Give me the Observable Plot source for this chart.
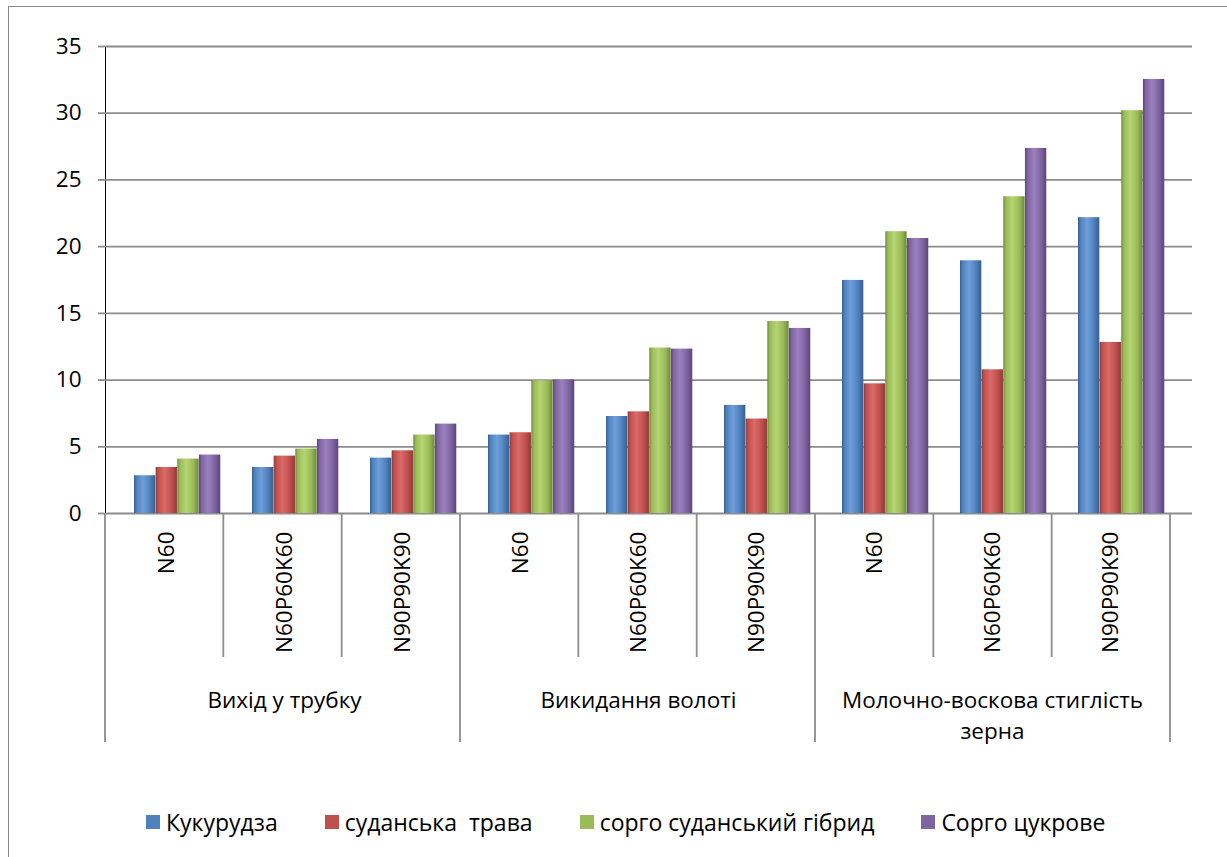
<!DOCTYPE html>
<html>
<head>
<meta charset="utf-8">
<script src="https://cdn.jsdelivr.net/npm/d3@7"></script>
<script src="https://cdn.jsdelivr.net/npm/@observablehq/plot@0.6"></script>
<style>
  html, body { margin: 0; padding: 0; background: #fff; }
  body { width: 1227px; height: 857px; overflow: hidden; position: relative; font-family: "Open Sans", sans-serif; }
  #border { position: absolute; left: 8px; top: 6px; width: 1300px; height: 900px; border: 1.5px solid #8a8a8a; box-sizing: border-box; }
  #chart { position: absolute; left: 0; top: 0; }
  #legend { position: absolute; left: 146px; top: 788px; height: 67px; display: flex; align-items: center; gap: 47px; font-size: 23px; color: #000; }
  .item { display: flex; align-items: center; gap: 6px; white-space: pre; }
  .sw { width: 14px; height: 14px; display: inline-block; }
</style>
</head>
<body>
<div id="border"></div>
<div id="chart"></div>
<div id="legend"></div>
<script>
// ---- data ----
const groups = ["Вихід у трубку", "Викидання волоті", "Молочно-воскова стиглість\nзерна"];
const treatments = ["N60", "N60P60K60", "N90P90K90"];
const seriesNames = ["Кукурудза", "суданська  трава", "сорго суданський гібрид", "Сорго цукрове"];
const seriesColors = ["#4F81BD", "#C0504D", "#9BBB59", "#8064A2"];
const kukurudza    = [2.83, 3.45, 4.15, 5.88, 7.27, 8.10, 17.47, 18.94, 22.17];
const sudanska     = [3.45, 4.30, 4.70, 6.05, 7.62, 7.08, 9.72, 10.77, 12.82];
const sorgoHybrid  = [4.08, 4.83, 5.88, 9.95, 12.40, 14.39, 21.12, 23.74, 30.19];
const sorgoCukrove = [4.38, 5.55, 6.70, 10.02, 12.32, 13.87, 20.61, 27.36, 32.53];
const yTicks = [0, 5, 10, 15, 20, 25, 30, 35];

// ---- derived table ----
const seriesValues = [kukurudza, sudanska, sorgoHybrid, sorgoCukrove];
const keys = [];
groups.forEach((g, gi) => treatments.forEach(t => keys.push(gi + "|" + t)));
const table = [];
seriesValues.forEach((vals, si) => vals.forEach((v, k) => table.push({key: keys[k], series: si, value: v})));

// colours for gradients: [dark, base, light]
const shades = [
  ["#375f8f", "#4F81BD", "#6f9fdb"],
  ["#8f3a38", "#C0504D", "#da6b68"],
  ["#6c873a", "#9BBB59", "#b5d572"],
  ["#5a4577", "#8064A2", "#9b80bf"]
];

const W = 1227, H = 790;
const xLeft = 105, xRight = 1170;
const bw = (xRight - xLeft) / keys.length;
const barW = 21.65, lead = 27;

const barMarks = seriesValues.map((_, si) =>
  Plot.barY(table.filter(d => d.series === si), {
    x: "key", y: "value",
    fill: `url(#grad${si})`,
    insetLeft: lead + barW * si,
    insetRight: bw - lead - barW * (si + 1)
  })
);

const chart = Plot.plot({
  width: W, height: H,
  marginLeft: xLeft, marginRight: W - 1192, marginTop: 46, marginBottom: H - 513,
  style: {fontFamily: "Open Sans", fontSize: "22.5px", color: "#000", background: "transparent", overflow: "visible"},
  x: {domain: keys, range: [xLeft, xRight], padding: 0, tickFormat: k => k.split("|")[1],
      tickRotate: -90, tickSize: 0, tickPadding: 18, label: null},
  y: {domain: [0, 35], ticks: yTicks, tickSize: 7, tickPadding: 17, label: null, line: true},
  marks: [
    Plot.ruleY(yTicks, {stroke: "#8c8c8c", strokeWidth: 1.8}),
    ...barMarks,
    Plot.text(groups, {
      x: (g, i) => keys[i * 3 + 1], text: d => d,
      frameAnchor: "bottom", dy: 172, lineAnchor: "top", lineHeight: 1.4,
      fontSize: 22.5, fill: "#000"
    })
  ]
});
document.getElementById("chart").appendChild(chart);

const svg = d3.select(chart);
// gradients for bar shading
const defs = svg.insert("defs", ":first-child");
shades.forEach((s, i) => {
  const g = defs.append("linearGradient").attr("id", "grad" + i)
    .attr("x1", 0).attr("x2", 1).attr("y1", 0).attr("y2", 0);
  [[0, s[0]], [0.12, s[1]], [0.42, s[2]], [0.75, s[1]], [1, s[0]]].forEach(([o, c]) =>
    g.append("stop").attr("offset", o).attr("stop-color", c));
});
// grey y-axis ticks/line
svg.selectAll('[aria-label="y-axis"] line, [aria-label="y-axis"] path, [aria-label="y-axis tick"], [aria-label="y-axis line"]').attr("stroke", "#8c8c8c").attr("stroke-width", 1.8);

// category separators from the scales
const xs = chart.scale("x"), ys = chart.scale("y");
const step = (xs.range[1] - xs.range[0]) / xs.domain.length;
const y0 = ys.range[0];
const sep = svg.append("g").attr("stroke", "#8c8c8c").attr("stroke-width", 1.8);
for (let i = 0; i <= xs.domain.length; i++) {
  const x = xs.range[0] + i * step;
  sep.append("line").attr("x1", x).attr("x2", x).attr("y1", y0).attr("y2", i % 3 === 0 ? 742 : 657);
}

// legend
const legend = document.getElementById("legend");
seriesNames.forEach((n, i) => {
  const it = document.createElement("div"); it.className = "item";
  const sw = document.createElement("span"); sw.className = "sw"; sw.style.background = seriesColors[i];
  const tx = document.createElement("span"); tx.textContent = n;
  it.appendChild(sw); it.appendChild(tx); legend.appendChild(it);
});
</script>
</body>
</html>
